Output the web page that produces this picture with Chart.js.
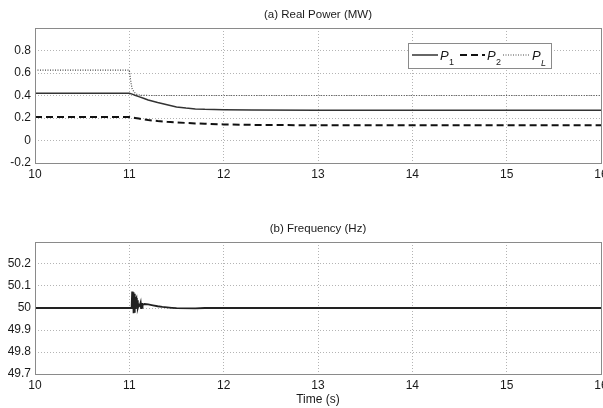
<!DOCTYPE html>
<html>
<head>
<meta charset="utf-8">
<script src="https://cdn.jsdelivr.net/npm/chart.js@4/dist/chart.umd.min.js"></script>
<style>
  html, body { margin: 0; padding: 0; background: #fff; overflow: hidden; }
  .panel { position: absolute; left: 0; width: 603px; }
  #top { top: 0; height: 200px; }
  #bottom { top: 200px; height: 208px; }
</style>
</head>
<body>
<div class="panel" id="top"><canvas id="power"></canvas></div>
<div class="panel" id="bottom"><canvas id="freq"></canvas></div>
<script>
// Time axis ticks (s)
const TIME_TICKS = [10, 11, 12, 13, 14, 15, 16];

// Generator powers after the load step at t = 11 s (MW)
const T_GEN = [10, 11, 11.03, 11.06, 11.1, 11.15, 11.2, 11.3, 11.4, 11.5, 11.6, 11.7, 11.8, 12, 12.3, 13, 16];
const P1 = [0.42, 0.42, 0.412, 0.402, 0.39, 0.375, 0.36, 0.338, 0.318, 0.298, 0.288, 0.281, 0.277, 0.273, 0.271, 0.27, 0.27];
const P2 = [0.208, 0.208, 0.204, 0.2, 0.195, 0.188, 0.182, 0.173, 0.166, 0.161, 0.156, 0.152, 0.149, 0.143, 0.139, 0.135, 0.135];

// Load demand
const T_LOAD = [10, 11, 11.01, 11.02, 11.03, 11.05, 11.08, 11.12, 11.2, 16];
const PL = [0.625, 0.625, 0.56, 0.5, 0.46, 0.43, 0.41, 0.402, 0.4, 0.4];

// System frequency (Hz)
const T_FREQ = [10, 11.02, 11.025, 11.03, 11.035, 11.04, 11.045, 11.05, 11.055, 11.06, 11.065, 11.07, 11.075,
  11.08, 11.085, 11.09, 11.1, 11.11, 11.12, 11.125, 11.13, 11.135, 11.14, 11.15, 11.16, 11.2, 11.25, 11.3,
  11.35, 11.4, 11.45, 11.5, 11.7, 11.8, 16];
const FREQ = [50, 50, 50.01, 50.075, 50.02, 50.072, 49.976, 50.065, 49.978, 50.05, 50.0, 50.04, 50.045,
  50.002, 50.035, 50.0, 50.015, 50.01, 50.025, 50.0, 50.022, 50.002, 50.018, 50.016, 50.018, 50.016, 50.012, 50.008,
  50.005, 50.003, 50.001, 49.999, 49.998, 50, 50];

const POWER_TICKS = [-0.2, 0, 0.2, 0.4, 0.6, 0.8];
const FREQ_TICKS = [49.7, 49.8, 49.9, 50, 50.1, 50.2];

const FONT = "'Liberation Sans', Arial, sans-serif";
const INK = "#1a1a1a";
const GRID = "#b4b4b4";
const FRAME = "#8a8a8a";

const pts = (xs, ys) => xs.map((x, i) => ({ x, y: ys[i] }));
const fmt = v => String(+v.toFixed(1));

// Closed box round the plot area, plus the panel heading above it
const framePlugin = {
  id: "frame",
  afterDraw(chart, args, opts) {
    const { ctx, chartArea: a } = chart;
    ctx.save();
    ctx.strokeStyle = FRAME;
    ctx.lineWidth = 1;
    ctx.strokeRect(Math.round(a.left) + 0.5, Math.round(a.top) + 0.5,
      Math.round(a.right - a.left), Math.round(a.bottom - a.top));
    ctx.fillStyle = INK;
    ctx.font = "11.5px " + FONT;
    ctx.textAlign = "center";
    ctx.textBaseline = "middle";
    ctx.fillText(opts.heading, (a.left + a.right) / 2, a.top - 13);
    ctx.restore();
  },
};

// Legend with subscripted labels (P_1, P_2, P_L); offsets are from the box's left edge
const subLegendPlugin = {
  id: "subLegend",
  afterDraw(chart, args, opts) {
    if (!opts.items) return;
    const { ctx, chartArea: a } = chart;
    const x0 = Math.round(a.right) - 193, y0 = Math.round(a.top) + 15, w = 143, h = 25;
    ctx.save();
    ctx.fillStyle = "#fff";
    ctx.fillRect(x0, y0, w, h);
    ctx.strokeStyle = FRAME;
    ctx.lineWidth = 1;
    ctx.strokeRect(x0 + 0.5, y0 + 0.5, w, h);
    const cy = y0 + 12;
    opts.items.forEach((it, i) => {
      const ds = chart.data.datasets[i];
      ctx.strokeStyle = ds.borderColor;
      ctx.lineWidth = ds.borderWidth;
      ctx.setLineDash(ds.borderDash || []);
      ctx.beginPath();
      ctx.moveTo(x0 + it.from, cy);
      ctx.lineTo(x0 + it.to, cy);
      ctx.stroke();
      ctx.setLineDash([]);
      ctx.fillStyle = INK;
      ctx.textAlign = "left";
      ctx.textBaseline = "middle";
      ctx.font = "italic 13px " + FONT;
      ctx.fillText("P", x0 + it.to + 2, cy + 1);
      ctx.font = (it.sub === "L" ? "italic " : "") + "9px " + FONT;
      ctx.fillText(it.sub, x0 + it.to + 11, cy + 8);
    });
    ctx.restore();
  },
};

function xScale(withTitle) {
  return {
    type: "linear",
    min: 10,
    max: 16,
    afterBuildTicks: s => { s.ticks = TIME_TICKS.map(value => ({ value })); },
    grid: { color: GRID, drawTicks: false },
    border: { display: false, dash: [1, 2] },
    ticks: { padding: 4, color: INK, font: { family: FONT, size: 12 }, maxRotation: 0 },
    title: withTitle
      ? { display: true, text: "Time (s)", color: INK, font: { family: FONT, size: 12 }, padding: { top: 0, bottom: 1 } }
      : { display: false },
    afterFit: s => { s.paddingLeft = 0; s.paddingRight = 0; s.height = withTitle ? 34 : 37; },
  };
}

function yScale(min, max, ticks) {
  return {
    min,
    max,
    afterBuildTicks: s => { s.ticks = ticks.map(value => ({ value })); },
    grid: { color: GRID, drawTicks: false },
    border: { display: false, dash: [1, 2] },
    ticks: { padding: 4, color: INK, font: { family: FONT, size: 12 }, callback: fmt },
    afterFit: s => { s.width = 35; s.paddingTop = 0; s.paddingBottom = 0; },
  };
}

const common = {
  responsive: true,
  maintainAspectRatio: false,
  animation: false,
  parsing: false,
  elements: { point: { radius: 0 }, line: { tension: 0 } },
  plugins: { legend: { display: false }, tooltip: { enabled: false } },
};

new Chart(document.getElementById("power"), {
  type: "line",
  data: {
    datasets: [
      { label: "P1", data: pts(T_GEN, P1), borderColor: "#333", borderWidth: 1.5 },
      { label: "P2", data: pts(T_GEN, P2), borderColor: "#111", borderWidth: 2, borderDash: [7, 4] },
      { label: "PL", data: pts(T_LOAD, PL), borderColor: "#4a4a4a", borderWidth: 1.2, borderDash: [1, 1.5] },
    ],
  },
  options: {
    ...common,
    layout: { padding: { top: 28, left: 0, right: 2, bottom: 0 } },
    scales: { x: xScale(false), y: yScale(-0.2, 1.0, POWER_TICKS) },
    plugins: {
      ...common.plugins,
      frame: { heading: "(a) Real Power (MW)" },
      subLegend: {
        items: [
          { sub: "1", from: 4, to: 30 },
          { sub: "2", from: 52, to: 77 },
          { sub: "L", from: 95, to: 122 },
        ],
      },
    },
  },
  plugins: [framePlugin, subLegendPlugin],
});

new Chart(document.getElementById("freq"), {
  type: "line",
  data: {
    datasets: [
      { label: "f", data: pts(T_FREQ, FREQ), borderColor: "#222", borderWidth: 1.8 },
    ],
  },
  options: {
    ...common,
    layout: { padding: { top: 42, left: 0, right: 2, bottom: 0 } },
    scales: { x: xScale(true), y: yScale(49.7, 50.3, FREQ_TICKS) },
    plugins: {
      ...common.plugins,
      frame: { heading: "(b) Frequency (Hz)" },
    },
  },
  plugins: [framePlugin],
});
</script>
</body>
</html>
